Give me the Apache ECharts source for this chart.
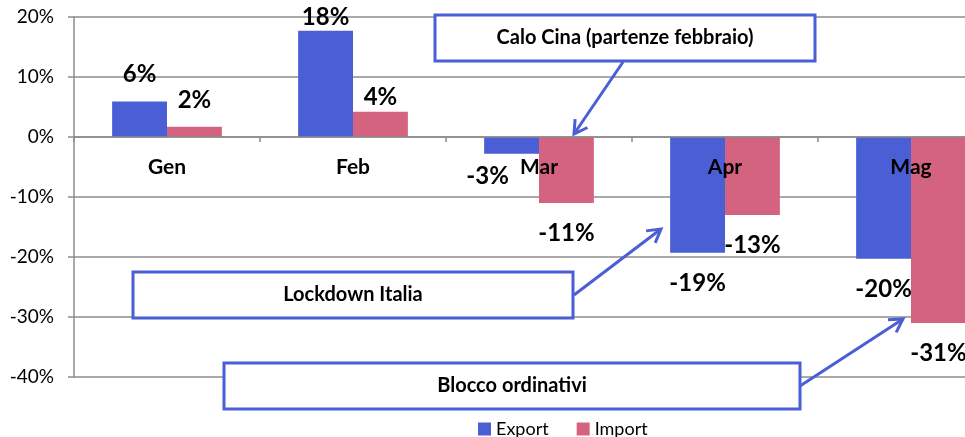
<!DOCTYPE html>
<html>
<head>
<meta charset="utf-8">
<script src="https://cdn.jsdelivr.net/npm/echarts@6/dist/echarts.min.js"></script>
<style>
  html, body { margin: 0; padding: 0; background: #fff; }
  #chart { width: 965px; height: 437px; }
</style>
</head>
<body>
<div id="chart"></div>
<script>
// dati (variazione %)
const categories = ['Gen', 'Feb', 'Mar', 'Apr', 'Mag'];
const exportValues = [5.9, 17.7, -2.8, -19.3, -20.3];
const importValues = [1.7, 4.2, -11.0, -13.0, -31.0];
const yTicks = { min: -40, max: 20, step: 10 };
const notes = ['Calo Cina (partenze febbraio)', 'Lockdown Italia', 'Blocco ordinativi'];

const BLUE = '#4a5ed5';
const PINK = '#d4637f';
const GRAY = '#8c8c8c';
const FONT = 'Lato, "Open Sans", sans-serif';

// area del grafico: l'originale è tagliato a destra
const GRID = { left: 74, top: 17, width: 930, height: 360 };
// l'asse x sta sullo zero
const zeroOffset = -GRID.height * (0 - yTicks.min) / (yTicks.max - yTicks.min);

// piccoli spostamenti delle etichette come nell'originale
const exportLabelOffsets = { 1: [0, 13], 2: [-24, -8] };
const importLabelOffsets = { 1: [0, 12] };

function buildData(values, offsets) {
  return values.map((v, i) => ({
    value: v,
    label: {
      position: v >= 0 ? 'top' : 'bottom',
      distance: v >= 0 ? 15 : 18,
      offset: offsets[i] || [0, 0]
    }
  }));
}

// freccia: linea + punta
function arrow(x1, y1, x2, y2) {
  const a = Math.atan2(y2 - y1, x2 - x1);
  const len = 15, wing = Math.PI / 6;
  const p1 = [x2 - len * Math.cos(a - wing), y2 - len * Math.sin(a - wing)];
  const p2 = [x2 - len * Math.cos(a + wing), y2 - len * Math.sin(a + wing)];
  return [{
    type: 'line',
    shape: { x1: x1, y1: y1, x2: x2, y2: y2 },
    style: { stroke: BLUE, lineWidth: 3 },
    z: 100
  }, {
    type: 'polyline',
    shape: { points: [p1, [x2, y2], p2] },
    style: { stroke: BLUE, lineWidth: 3, fill: null },
    z: 100
  }];
}

function noteBox(x, y, w, h, text) {
  return [{
    type: 'rect',
    shape: { x: x, y: y, width: w, height: h },
    style: { fill: '#fff', stroke: BLUE, lineWidth: 3 },
    z: 100
  }, {
    type: 'text',
    x: x + w / 2,
    y: y + h / 2,
    style: {
      text: text,
      font: 'bold 20px ' + FONT,
      fill: '#000',
      align: 'center',
      verticalAlign: 'middle'
    },
    z: 101
  }];
}

const chart = echarts.init(document.getElementById('chart'));

const labelStyle = {
  show: true,
  color: '#000',
  fontFamily: FONT,
  fontWeight: 'bold',
  fontSize: 24,
  formatter: p => Math.round(p.value) + '%'
};

chart.setOption({
  backgroundColor: '#fff',
  animation: false,
  color: [BLUE, PINK],
  grid: {
    left: GRID.left, top: GRID.top, width: GRID.width, height: GRID.height,
    containLabel: false,
    outerBoundsMode: 'none'
  },
  legend: {
    data: ['Export', 'Import'],
    left: 478,
    top: 420,
    padding: 0,
    icon: 'rect',
    itemWidth: 13,
    itemHeight: 13,
    itemGap: 28,
    selectedMode: false,
    textStyle: { fontFamily: FONT, fontSize: 18, color: '#000' }
  },
  xAxis: {
    type: 'category',
    data: categories,
    z: 10,
    offset: zeroOffset,
    axisLine: { onZero: false, lineStyle: { color: GRAY, width: 1.5 } },
    axisTick: { show: true, length: 5, lineStyle: { color: GRAY, width: 1.5 } },
    axisLabel: {
      margin: 20,
      color: '#000',
      fontFamily: FONT,
      fontWeight: 'bold',
      fontSize: 21
    },
    splitLine: { show: false }
  },
  yAxis: {
    type: 'value',
    min: yTicks.min,
    max: yTicks.max,
    interval: yTicks.step,
    axisLine: { show: true, lineStyle: { color: GRAY, width: 1.5 } },
    axisTick: { show: true, length: 6, lineStyle: { color: GRAY, width: 1.5 } },
    axisLabel: {
      margin: 20,
      color: '#000',
      fontFamily: FONT,
      fontSize: 19,
      formatter: v => v + '%'
    },
    splitLine: { show: true, lineStyle: { color: GRAY, width: 1.5 } }
  },
  series: [{
    name: 'Export',
    type: 'bar',
    barGap: '0%',
    barCategoryGap: '41%',
    data: buildData(exportValues, exportLabelOffsets),
    label: labelStyle
  }, {
    name: 'Import',
    type: 'bar',
    barGap: '0%',
    barCategoryGap: '41%',
    data: buildData(importValues, importLabelOffsets),
    label: labelStyle
  }],
  graphic: [].concat(
    noteBox(435, 15, 380, 46, notes[0]),
    arrow(623, 62, 574, 134),
    noteBox(133, 272, 440, 46, notes[1]),
    arrow(574, 295, 661, 229),
    noteBox(224, 363, 576, 46, notes[2]),
    arrow(800, 386, 903, 319)
  )
});
</script>
</body>
</html>
